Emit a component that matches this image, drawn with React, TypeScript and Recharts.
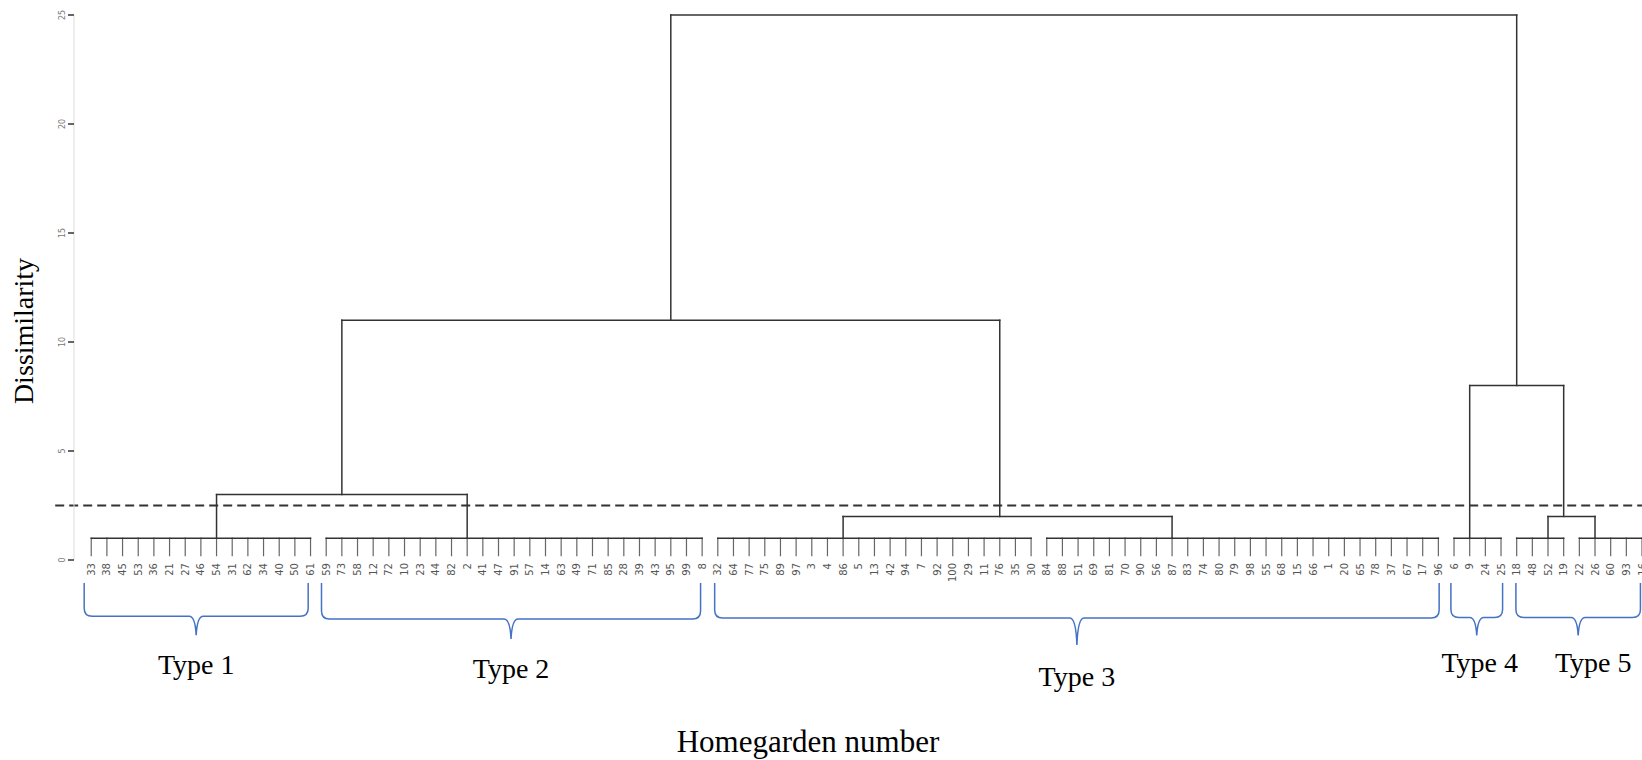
import React from 'react';
import { ComposedChart, XAxis, YAxis, ReferenceLine, ReferenceArea, Label, Line } from 'recharts';

// ---------- data ----------
const type1Leaves = ['33', '38', '45', '53', '36', '21', '27', '46', '54', '31', '62', '34', '40', '50', '61'];
const type2Leaves = ['59', '73', '58', '12', '72', '10', '23', '44', '82', '2', '41', '47', '91', '57', '14', '63', '49', '71', '85', '28', '39', '43', '95', '99', '8'];
const type3aLeaves = ['32', '64', '77', '75', '89', '97', '3', '4', '86', '5', '13', '42', '94', '7', '92', '100', '29', '11', '76', '35', '30'];
const type3bLeaves = ['84', '88', '51', '69', '81', '70', '90', '56', '87', '83', '74', '80', '79', '98', '55', '68', '15', '66', '1', '20', '65', '78', '37', '67', '17', '96'];
const type4Leaves = ['6', '9', '24', '25'];
const type5aLeaves = ['18', '48', '52', '19'];
const type5bLeaves = ['22', '26', '60', '93', '16'];

const leafOrder = [...type1Leaves, ...type2Leaves, ...type3aLeaves, ...type3bLeaves, ...type4Leaves, ...type5aLeaves, ...type5bLeaves];

// leaf clusters: joined at a common height, stem rises from the given leaf
const leafClusters = [
  { id: 'g1', leaves: type1Leaves, height: 1, stem: '54' },
  { id: 'g2', leaves: type2Leaves, height: 1, stem: '2' },
  { id: 'g3a', leaves: type3aLeaves, height: 1, stem: '86' },
  { id: 'g3b', leaves: type3bLeaves, height: 1, stem: '87' },
  { id: 'g4', leaves: type4Leaves, height: 1, stem: '9' },
  { id: 'g5a', leaves: type5aLeaves, height: 1, stem: '52' },
  { id: 'g5b', leaves: type5bLeaves, height: 1, stem: '26' },
];

// merges (dissimilarity heights)
const merges = [
  { id: 'm12', children: ['g1', 'g2'], height: 3 },
  { id: 'm3', children: ['g3a', 'g3b'], height: 2, stem: '76' },
  { id: 'm123', children: ['m12', 'm3'], height: 11 },
  { id: 'm5', children: ['g5a', 'g5b'], height: 2, stem: '19' },
  { id: 'm45', children: ['g4', 'm5'], height: 8 },
  { id: 'root', children: ['m123', 'm45'], height: 25 },
];

const yTicks = [0, 5, 10, 15, 20, 25];
const cutHeight = 2.5;
const leafBase = 0.2;

const typeGroups = [
  { label: 'Type 1', from: '33', to: '61' },
  { label: 'Type 2', from: '59', to: '8' },
  { label: 'Type 3', from: '32', to: '96' },
  { label: 'Type 4', from: '6', to: '25' },
  { label: 'Type 5', from: '18', to: '16' },
];

// ---------- layout / style (not data) ----------
const braceLayout = [
  { padL: 0.45, padR: -0.15, tip: -3.45, depth: 19, dx: 0, dy: 39 },
  { padL: 0.3, padR: -0.1, tip: -3.62, depth: 20, dx: 0, dy: 39 },
  { padL: 0.2, padR: 0.05, tip: -3.9, depth: 27, dx: 0, dy: 41 },
  { padL: 0.2, padR: 0.1, tip: -3.46, depth: 18, dx: 3, dy: 37 },
  { padL: 0.05, padR: -0.1, tip: -3.46, depth: 18, dx: 15, dy: 37 },
];
const braceTop = -1.05;
const LINE = '#333';
const LEAF = '#666';

// ---------- tree geometry in data units ----------
const idx = (l: string) => leafOrder.indexOf(l);
const nodeX: Record<string, number> = {};
const nodeH: Record<string, number> = {};
type Seg = { x1: number; y1: number; x2: number; y2: number; leaf?: boolean };
const segments: Seg[] = [];

leafClusters.forEach((c) => {
  nodeX[c.id] = idx(c.stem);
  nodeH[c.id] = c.height;
  c.leaves.forEach((l) => {
    const i = idx(l);
    segments.push({ x1: i, y1: leafBase, x2: i, y2: c.height, leaf: true });
  });
  segments.push({ x1: idx(c.leaves[0]), y1: c.height, x2: idx(c.leaves[c.leaves.length - 1]), y2: c.height });
});
merges.forEach((m) => {
  const xs = m.children.map((ch) => nodeX[ch]);
  nodeX[m.id] = m.stem ? idx(m.stem) : (xs[0] + xs[1]) / 2;
  nodeH[m.id] = m.height;
  segments.push({ x1: xs[0], y1: m.height, x2: xs[1], y2: m.height });
  m.children.forEach((ch) => {
    segments.push({ x1: nodeX[ch], y1: nodeH[ch], x2: nodeX[ch], y2: m.height });
  });
});

const chartData = leafOrder.map((label, i) => ({ i, label, base: null as number | null }));

// ---------- render helpers ----------
const LeafTick = (props: any) => {
  const { x, y, payload } = props;
  const label = leafOrder[payload.value];
  const tx = x + 3.5;
  return (
    <text x={tx} y={y} transform={`rotate(-90 ${tx} ${y})`} textAnchor="end" fontSize={10} fill="#555" fontFamily="DejaVu Sans, sans-serif">
      {label}
    </text>
  );
};

const YTick = (props: any) => {
  const { x, y, payload } = props;
  const tx = x - 1;
  return (
    <text x={tx} y={y} transform={`rotate(-90 ${tx} ${y})`} textAnchor="middle" fontSize={8} fill="#777" fontFamily="DejaVu Sans, sans-serif">
      {payload.value}
    </text>
  );
};

const YTitle = () => (
  <text x={33} y={331} transform="rotate(-90 33 331)" textAnchor="middle" fontSize={28} fill="#000" fontFamily="Liberation Serif, serif">
    Dissimilarity
  </text>
);

const XTitle = () => (
  <text x={808} y={752} textAnchor="middle" fontSize={31} fill="#000" fontFamily="Liberation Serif, serif">
    Homegarden number
  </text>
);

const makeBrace = (label: string, lay: any) => (p: any) => {
  const { x, y, width, height } = p;
  if (x == null || y == null) return <g />;
  const x1 = x;
  const x2 = x + width;
  const top = y;
  const tip = y + height;
  const line = tip - lay.depth;
  const cx = x + width / 2;
  const r = 8;
  const d = [
    `M${x1},${top}`,
    `L${x1},${line - r}`,
    `Q${x1},${line} ${x1 + r},${line}`,
    `L${cx - 7},${line}`,
    `Q${cx - 1},${line} ${cx},${tip}`,
    `Q${cx + 1},${line} ${cx + 7},${line}`,
    `L${x2 - r},${line}`,
    `Q${x2},${line} ${x2},${line - r}`,
    `L${x2},${top}`,
  ].join(' ');
  return (
    <g>
      <path d={d} fill="none" stroke="#4472C4" strokeWidth={1.5} />
      <text x={cx + lay.dx} y={tip + lay.dy} textAnchor="middle" fontSize={28} fill="#000" fontFamily="Liberation Serif, serif">
        {label}
      </text>
    </g>
  );
};

export default function App() {
  return (
    <div style={{ position: 'absolute', left: 0, top: 0, width: 1642, height: 760, background: '#fff' }}>
      <ComposedChart width={1642} height={760} data={chartData} margin={{ top: 15, right: 0, bottom: 0, left: 0 }}>
        <XAxis
          type="number"
          dataKey="i"
          domain={[-1.1, 99]}
          allowDataOverflow
          ticks={leafOrder.map((_, i) => i)}
          interval={0}
          tick={<LeafTick />}
          tickSize={0}
          tickMargin={3}
          axisLine={false}
          tickLine={false}
          height={200}
        >
          <Label content={<XTitle />} />
        </XAxis>
        <YAxis
          type="number"
          domain={[0, 25]}
          allowDataOverflow
          ticks={yTicks}
          interval={0}
          width={74}
          axisLine={{ stroke: '#ddd', strokeWidth: 1 }}
          tickLine={{ stroke: '#333', strokeWidth: 1.5 }}
          tickSize={6}
          tickMargin={2}
          tick={<YTick />}
        >
          <Label content={<YTitle />} />
        </YAxis>
        <Line dataKey="base" stroke="none" dot={false} isAnimationActive={false} />

        <ReferenceLine
          segment={[{ x: -2.3, y: cutHeight }, { x: 99, y: cutHeight }]}
          stroke="#333"
          strokeWidth={2}
          strokeDasharray="9 5"
          ifOverflow="visible"
        />

        {segments.map((s, k) => (
          <ReferenceLine
            key={`s${k}`}
            segment={[{ x: s.x1, y: s.y1 }, { x: s.x2, y: s.y2 }]}
            stroke={s.leaf ? LEAF : LINE}
            strokeWidth={s.leaf ? 1.2 : 1.5}
            strokeLinecap="square"
            ifOverflow="visible"
          />
        ))}

        {typeGroups.map((t, k) => {
          const lay = braceLayout[k];
          return (
            <ReferenceArea
              key={`b${k}`}
              x1={idx(t.from) - lay.padL}
              x2={idx(t.to) + lay.padR}
              y1={braceTop}
              y2={lay.tip}
              ifOverflow="visible"
              shape={makeBrace(t.label, lay)}
            />
          );
        })}
      </ComposedChart>
    </div>
  );
}
